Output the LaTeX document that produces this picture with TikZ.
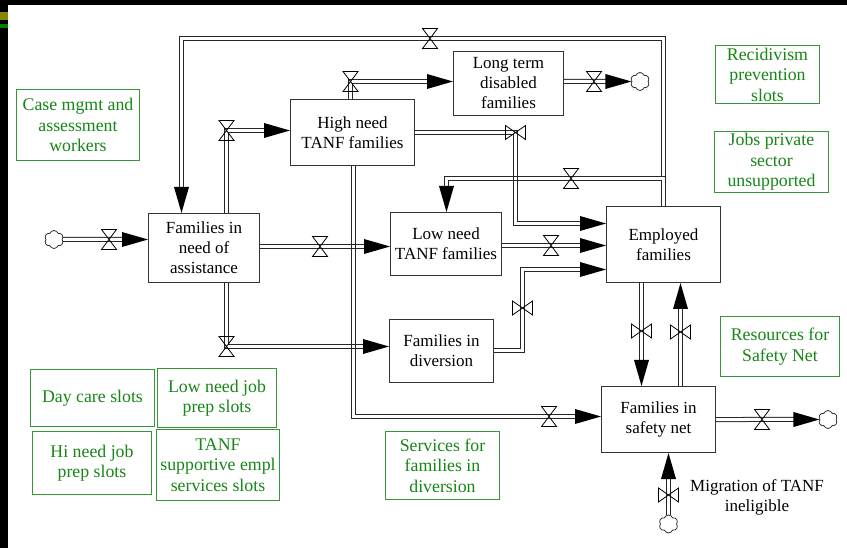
\documentclass[tikz,border=0pt]{standalone}
\usepackage{fontspec}
\setmainfont{Liberation Serif}
\newfontfamily\labelserif{Liberation Serif}
\usetikzlibrary{shapes.symbols}
\pgfdeclarelayer{bg}
\pgfdeclarelayer{pipes}
\pgfsetlayers{bg,pipes,main}

\definecolor{txtgreen}{RGB}{22,134,22}
\definecolor{boxgreen}{RGB}{55,150,55}
\definecolor{stripolive}{RGB}{136,136,0}
\definecolor{stripgreen}{RGB}{0,128,0}

\tikzset{
  stock/.style={draw=black!80, line width=1pt, fill=white, inner sep=0pt,
    align=center, text=black, font=\labelserif\fontsize{17}{20}\selectfont},
  aux/.style={draw=boxgreen, line width=1pt, fill=white, inner sep=0pt,
    align=center, text=txtgreen, font=\labelserif\fontsize{17.8}{20.5}\selectfont},
  pipe/.style={draw=black!85, line width=1pt, double=white,
    double distance=3pt, line join=miter},
  inpipe/.style={pipe, shorten >=14pt},
  pipeedge/.style={draw=black!85, line width=1pt},
  sink/.style={cloud, cloud puffs=6, cloud puff arc=140, aspect=1.1,
    draw=black!80, line width=0.8pt, fill=white, inner sep=0pt,
    minimum width=19pt, minimum height=18pt},
  flowtip/.pic={\fill[black] (0,0) -- (-26,-7.5) -- (-26,7.5) -- cycle;},
  valveh/.pic={\draw[black, line width=0.8pt]
    (-7.5,-10) -- (7.5,-10) -- (-7.5,10) -- (7.5,10) -- cycle;},
  valvev/.pic={\draw[black, line width=0.8pt]
    (-10,-7) -- (-10,7) -- (10,-7) -- (10,7) -- cycle;},
}

\begin{document}
\begin{tikzpicture}[x=1pt, y=-1pt]
\useasboundingbox (0,0) rectangle (847,548);

% page frame
\begin{pgfonlayer}{bg}
  \fill[white] (0,0) rectangle (847,548);
  \fill[black] (0,0) rectangle (847,5);
  \fill[black] (0,0) rectangle (8,548);
  \fill[stripolive] (0,12) rectangle (8,20);
  \fill[stripgreen] (0,24) rectangle (8,28);
\end{pgfonlayer}

% stocks
\node[stock, minimum width=111pt, minimum height=69pt] (famneed) at (204,248) {Families in\\need of\\assistance};
\node[stock, minimum width=124pt, minimum height=66pt] (highneed) at (352.5,132.5) {High need\\TANF families};
\node[stock, minimum width=111pt, minimum height=63pt] (lowneed) at (446,244) {Low need\\TANF families};
\node[stock, minimum width=110pt, minimum height=64pt] (longterm) at (508.5,83.5) {Long term\\disabled\\families};
\node[stock, minimum width=114pt, minimum height=76pt] (employed) at (663.5,244.5) {Employed\\families};
\node[stock, minimum width=104pt, minimum height=63pt] (diversion) at (441.5,351) {Families in\\diversion};
\node[stock, minimum width=114pt, minimum height=66pt] (safety) at (658.5,419.5) {Families in\\safety net};

% resources
\node[aux, minimum width=123pt, minimum height=71pt] (casemgmt) at (78,125) {Case mgmt and\\assessment\\workers};
\node[aux, minimum width=104pt, minimum height=58pt] (recid) at (767.5,74.5) {Recidivism\\prevention\\slots};
\node[aux, minimum width=114pt, minimum height=61pt] (jobs) at (771.5,162) {Jobs private\\sector\\unsupported};
\node[aux, minimum width=119pt, minimum height=60pt] (resources) at (780,346.5) {Resources for\\Safety Net};
\node[aux, minimum width=114pt, minimum height=68pt] (services) at (442.5,465.5) {Services for\\families in\\diversion};
\node[aux, minimum width=124pt, minimum height=57pt] (daycare) at (92.5,398) {Day care slots};
\node[aux, minimum width=119pt, minimum height=59pt] (lowjob) at (217,398) {Low need job\\prep slots};
\node[aux, minimum width=119pt, minimum height=63pt] (hijob) at (92,463) {Hi need job\\prep slots};
\node[aux, minimum width=123pt, minimum height=71pt] (tanfsup) at (218,465) {TANF\\supportive empl\\services slots};

% sources and sinks
\node[sink] (srcin) at (54,239.5) {};
\node[sink] (sinklt) at (640,81.5) {};
\node[sink] (sinksn) at (828,419.5) {};
\node[sink] (srcmig) at (668.5,524) {};

\node[font=\labelserif\fontsize{17}{20}\selectfont, align=center] (miglabel) at (757,497) {Migration of TANF\\ineligible};

% valve and corner positions
\coordinate (v1) at (109,239.5);
\coordinate (vFL) at (320,246.5);
\coordinate (vFH) at (226.5,130.5);
\coordinate (vFD) at (226.5,346.5);
\coordinate (vHL) at (350.5,81.5);
\coordinate (vLC) at (594,81.5);
\coordinate (vEF) at (430,38.5);
\coordinate (vEL) at (571,178.5);
\coordinate (vLE) at (551,245.5);
\coordinate (vHS) at (549,416.5);
\coordinate (vSC) at (762,419.5);
\coordinate (vHE) at (515.5,132.5);
\coordinate (vDE) at (522.5,308);
\coordinate (vES) at (641.5,331);
\coordinate (vSE) at (680.5,332);
\coordinate (vMS) at (668.5,495);
\coordinate (k7) at (515.5,223.5);
\coordinate (k9a) at (522.5,350.5);
\coordinate (k9b) at (522.5,269.5);
\coordinate (k10a) at (663.5,38.5);
\coordinate (k10b) at (181.5,38.5);
\coordinate (k11a) at (663.5,178.5);
\coordinate (k11b) at (446.5,178.5);
\coordinate (k16) at (353.5,416.5);

% flows
\begin{pgfonlayer}{pipes}
  \draw[inpipe] (highneed.south -| k16) -- (k16) -- (safety.west |- k16);
  \draw[inpipe] (srcin.east) -- (famneed.west |- srcin);
  \draw[inpipe] (famneed.east |- vFL) -- (lowneed.west |- vFL);
  \draw[inpipe] (famneed.north -| vFH) -- (vFH) -- (highneed.west |- vFH);
  \draw[inpipe] (famneed.south -| vFD) -- (vFD) -- (diversion.west |- vFD);
  \draw[inpipe] (highneed.north -| vHL) -- (vHL) -- (longterm.west |- vHL);
  \draw[inpipe] (longterm.east |- vLC) -- (sinklt.west);
  \draw[inpipe] (highneed.east |- vHE) -- (vHE) -- (k7) -- (employed.west |- k7);
  \draw[inpipe] (lowneed.east |- vLE) -- (employed.west |- vLE);
  \draw[inpipe] (diversion.east |- k9a) -- (k9a) -- (k9b) -- (employed.west |- k9b);
  \draw[inpipe] (employed.north -| k10a) -- (k10a) -- (k10b) -- (famneed.north -| k10b);
  \draw[inpipe] (employed.north -| k11a) -- (k11a) -- (k11b) -- (lowneed.north -| k11b);
  \draw[inpipe] (employed.south -| vES) -- (safety.north -| vES);
  \draw[inpipe] (safety.north -| vSE) -- (employed.south -| vSE);
  \draw[inpipe] (safety.east |- vSC) -- (sinksn.west);
  \draw[inpipe] (srcmig.north) -- (safety.south -| srcmig);
  % pipe walls that stay visible where two flows cross
  \foreach \ya/\yb in {240/253, 340/353}{
    \draw[pipeedge] (351.5,\ya) -- (351.5,\yb);
    \draw[pipeedge] (355.5,\ya) -- (355.5,\yb);
  }
  \draw[pipeedge] (513.5,172) -- (513.5,185);
  \draw[pipeedge] (517.5,172) -- (517.5,185);
\end{pgfonlayer}

% arrowheads
\pic at (famneed.west |- srcin) {flowtip};
\pic at (lowneed.west |- vFL) {flowtip};
\pic at (highneed.west |- vFH) {flowtip};
\pic at (diversion.west |- vFD) {flowtip};
\pic at (longterm.west |- vHL) {flowtip};
\pic at (sinklt.west) {flowtip};
\pic at (employed.west |- k7) {flowtip};
\pic at (employed.west |- vLE) {flowtip};
\pic at (employed.west |- k9b) {flowtip};
\pic[rotate=-90] at (famneed.north -| k10b) {flowtip};
\pic[rotate=-90] at (lowneed.north -| k11b) {flowtip};
\pic[rotate=-90] at (safety.north -| vES) {flowtip};
\pic[rotate=90] at (employed.south -| vSE) {flowtip};
\pic at (sinksn.west) {flowtip};
\pic[rotate=90] at (safety.south -| srcmig) {flowtip};
\pic at (safety.west |- k16) {flowtip};

% valves
\foreach \v in {v1,vFL,vFH,vFD,vHL,vLC,vEF,vEL,vLE,vHS,vSC}
  \pic at (\v) {valveh};
\foreach \v in {vHE,vDE,vES,vSE,vMS}
  \pic at (\v) {valvev};
\end{tikzpicture}
\end{document}
